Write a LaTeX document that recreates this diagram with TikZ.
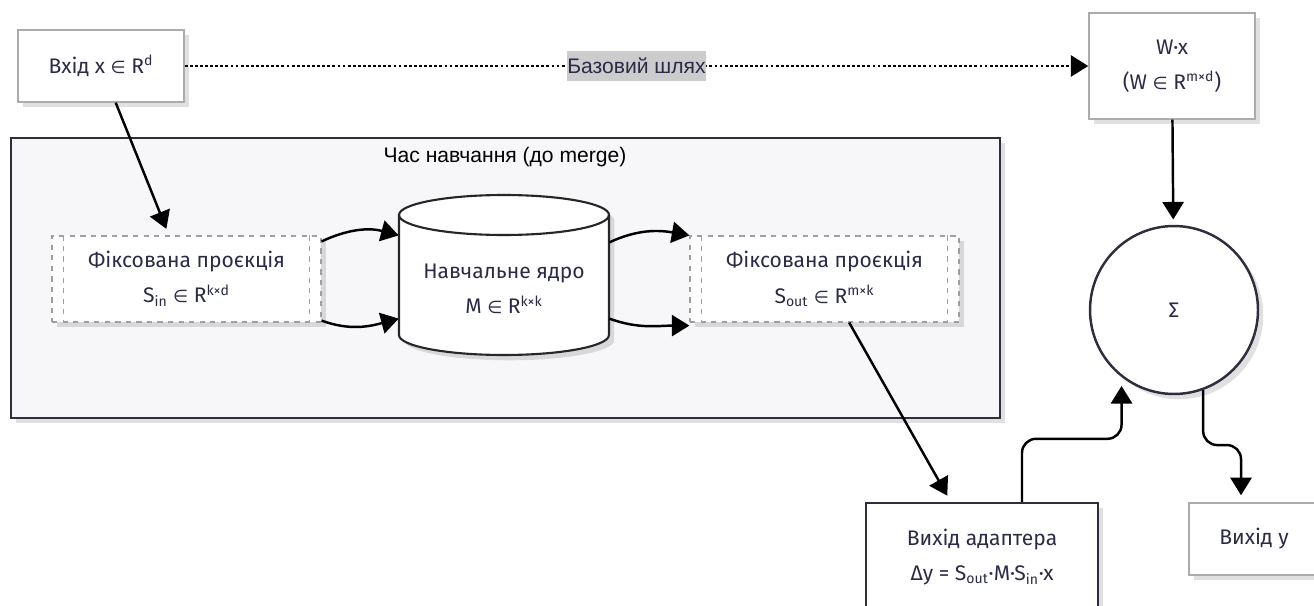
\documentclass[tikz,border=0pt]{standalone}
\usepackage{fontspec}
\setmainfont{Fira Sans}
\newfontfamily\arialfont{Liberation Sans}
\newfontfamily\symfont[Scale=0.82]{DejaVu Sans}
\newcommand{\elem}{{\symfont ∈}}
\usepackage{tikz}
\usetikzlibrary{arrows.meta,shadows,calc}
\definecolor{ink}{RGB}{43,43,72}
\definecolor{frame}{RGB}{46,46,62}
\definecolor{panel}{RGB}{247,247,250}
\tikzset{
    shade box/.style={drop shadow={shadow xshift=3pt,shadow yshift=-3pt,opacity=0.12,fill=black}},
    plainbox/.style={draw=gray!65, line width=0.8pt, fill=white, text=ink, align=center, shade box},
    darkbox/.style={draw=frame, line width=1.4pt, fill=white, text=ink, align=center, shade box},
    projbox/.style={draw=gray!75, dashed, line width=0.7pt, fill=white, text=ink, align=center,
        minimum width=5.38cm, minimum height=1.72cm, shade box},
    cyl/.style={draw=black!85, line width=1.2pt, fill=white},
    arr/.style={-{Triangle[length=10pt,width=12pt]}, line width=1.4pt, black},
    dotarr/.style={arr, line width=1.6pt, dash pattern=on 1.6pt off 1.3pt},
}

\begin{document}
\begin{tikzpicture}[x=0.02cm,y=0.02cm,font=\fontsize{12}{20}\selectfont]
\useasboundingbox (0,0) rectangle (1314,-605);

\node[plainbox, minimum width=3.32cm, minimum height=1.44cm] (in) at (101,-66) {Вхід x \elem{} R\textsuperscript{d}};
\node[plainbox, minimum width=3.32cm, minimum height=2.12cm] (wx) at (1172,-66) {W·x\\(W \elem{} R\textsuperscript{m×d})};

% training block
\node[draw=frame, line width=1.4pt, fill=panel, minimum width=19.78cm, minimum height=5.6cm, shade box] (train) at (505.5,-278) {};
\node[text=black, font=\arialfont\fontsize{12}{14}\selectfont] (trainlbl) at (505,-157) {Час навчання (до merge)};

\node[projbox] (sin) at (186.5,-279) {Фіксована проєкція\\S\textsubscript{in} \elem{} R\textsuperscript{k×d}};
\node[projbox] (sout) at (824.5,-279) {Фіксована проєкція\\S\textsubscript{out} \elem{} R\textsuperscript{m×k}};
\foreach \b in {sin,sout}{
    \draw[gray!75, dashed, line width=0.7pt] ([xshift=0.24cm]\b.north west) -- ([xshift=0.24cm]\b.south west);
    \draw[gray!75, dashed, line width=0.7pt] ([xshift=-0.24cm]\b.north east) -- ([xshift=-0.24cm]\b.south east);
}

\draw[cyl, shade box] (399,-215) -- (399,-335) arc[start angle=180,end angle=360,x radius=2.1cm,y radius=0.4cm]
    -- (609,-215) arc[start angle=0,end angle=180,x radius=2.1cm,y radius=0.4cm] -- cycle;
\draw[cyl, fill=none] (399,-215) arc[start angle=180,end angle=360,x radius=2.1cm,y radius=0.4cm];
\node[text=ink, align=center, minimum width=4.2cm, minimum height=2.6cm] (core) at (504,-289) {Навчальне ядро\\M \elem{} R\textsuperscript{k×k}};

\node[circle, draw=frame, line width=1.4pt, fill=white, minimum size=3.36cm, text=ink, shade box] (sum) at (1174,-310) {Σ};
\node[darkbox, minimum width=4.64cm, minimum height=2.16cm] (adapt) at (982,-557) {Вихід адаптера\\Δy = S\textsubscript{out}·M·S\textsubscript{in}·x};
\node[plainbox, minimum width=2.6cm, minimum height=1.44cm] (out) at (1254,-539) {Вихід y};

\draw[dotarr] (in) -- node[fill=gray!40, text=ink, font=\arialfont\fontsize{12}{14}\selectfont, inner xsep=0pt, inner ysep=4pt] (baselbl) {Базовий шлях} (wx);

\draw[arr, shorten >=4pt] (in) -- (sin);
\draw[arr] ($(sin.north east)+(0,-6)$) to[out=25,in=165] (core.west |- sin.north);
\draw[arr] ($(sin.south east)+(0,2)$) to[out=-20,in=195] ($(core.west |- sin.south)+(0,4)$);
\draw[arr] ($(core.east |- sout.north)+(0,-7)$) to[out=25,in=170] (sout.north west);
\draw[arr] ($(core.east |- sout.south)+(0,4)$) to[out=-20,in=180] ($(sout.south west)+(0,-3)$);
\draw[arr, shorten >=4pt] (sout) -- (adapt);

\draw[arr, shorten >=3pt] (wx) -- (sum);
\draw[arr, rounded corners=8pt, shorten >=5pt] ([xshift=0.8cm]adapt.north) -- ++(0,63) -| (sum.232);
\draw[arr, rounded corners=8pt, shorten >=4pt] (sum.290) -- ++(0,-55) -| ([xshift=-0.26cm]out.north);
\end{tikzpicture}
\end{document}
